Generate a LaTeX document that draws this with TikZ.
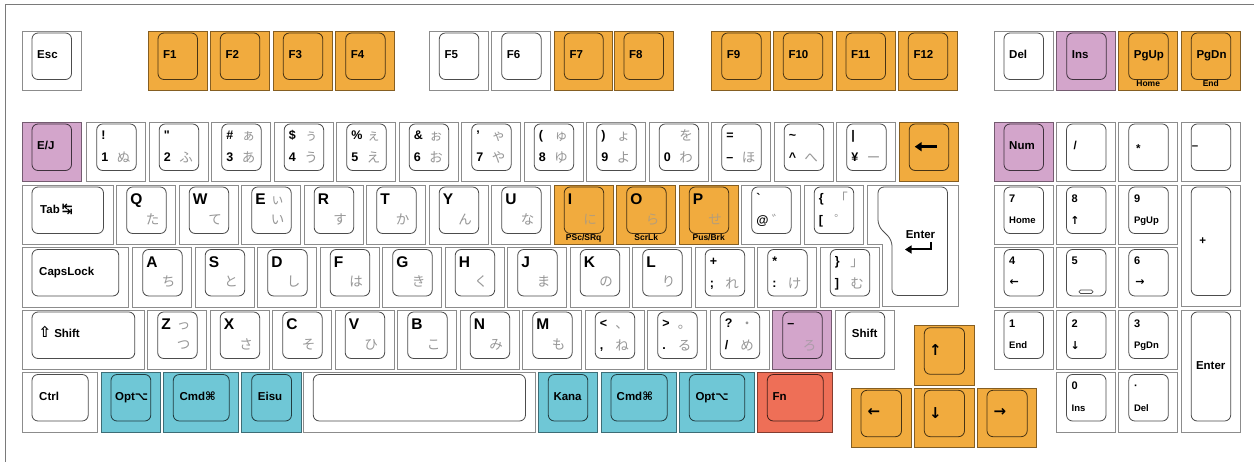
\documentclass[tikz,border=0pt]{standalone}
\usepackage{fontspec}
\setmainfont{Liberation Sans}
\newfontfamily\jp{Noto Sans CJK JP}
\newfontfamily\sym{DejaVu Sans}
\usetikzlibrary{calc,arrows.meta}
\definecolor{cOr}{HTML}{F1AB3E}
\definecolor{cPu}{HTML}{D3A5CB}
\definecolor{cTe}{HTML}{6FC7D6}
\definecolor{cRe}{HTML}{EE6F57}
\definecolor{cWh}{HTML}{FFFFFF}
\definecolor{kana}{HTML}{979797}
\definecolor{frm}{HTML}{7A7A7A}
% key: name, colour, x1, y1, x2, y2
\newcommand\kkey[6]{%
  \draw[draw=#2!55!black,fill=#2,line width=0.8pt] (#3,#4) rectangle (#5,#6);
  \draw[draw=#2!30!black,fill=#2,line width=0.8pt,rounded corners=6pt] ({#3+10},{#4+2}) rectangle ({#5-9.5},{#6-11});
  \coordinate (#1) at (#3,#4);}
\newcommand\ukey[4]{\kkey{#1}{#2}{#3}{#4}{#3+59}{#4+59.5}}
\newcommand\lbl[3][15]{\node[lab,anchor=west] (#2-l) at ($(#2)+(#1,23.8)$) {#3};}
\newcommand\tbl[3]{\node[nr,anchor=west] (#1-t) at ($(#1)+(14.5,13.5)$) {#2};\node[nr,anchor=west] (#1-b) at ($(#1)+(14.5,35.5)$) {#3};}
\newcommand\kal[4][kana]{\node[kn,text=#1] (#2-kt) at ($(#2)+(37,13.5)$) {#3};\node[kn,text=#1] (#2-kb) at ($(#2)+(37,35.5)$) {#4};}
\newcommand\ltl[4][kana]{\node[ltr,anchor=west] (#2-l) at ($(#2)+(13.5,14)$) {#3};\node[kn,text=#1] (#2-k) at ($(#2)+(36,34)$) {#4};}
\newcommand\sbl[2]{\node[subl] (#1-s) at ($(#1)+(29.5,52.5)$) {#2};}
\newcommand\npl[3]{\node[np,anchor=west] (#1-t) at ($(#1)+(15,13.5)$) {#2};\node[nps,anchor=west] (#1-b) at ($(#1)+(15,35.5)$) {#3};}
\begin{document}
\begin{tikzpicture}[x=1pt,y=-1pt,
  lab/.style={font=\fontsize{11.5}{12}\selectfont\bfseries,inner sep=0pt,text height=8.2pt,text depth=0pt},
  nr/.style={font=\fontsize{12.5}{13}\selectfont\bfseries,inner sep=0pt,text height=9pt,text depth=0pt},
  ltr/.style={font=\fontsize{15.5}{16}\selectfont\bfseries,inner sep=0pt,text height=11.1pt,text depth=0pt},
  kn/.style={font=\jp\fontsize{13.5}{14}\selectfont,inner sep=0pt,text height=11.9pt,text depth=1.6pt},
  subl/.style={font=\fontsize{8.5}{9}\selectfont\bfseries,inner sep=0pt,text height=6.1pt,text depth=0pt},
  np/.style={font=\fontsize{11}{12}\selectfont\bfseries,inner sep=0pt,text height=7.9pt,text depth=0pt},
  nps/.style={font=\fontsize{9.5}{10}\selectfont\bfseries,inner sep=0pt,text height=6.8pt,text depth=0pt},
  ar/.style={font=\sym\fontsize{15}{15}\selectfont\bfseries,inner sep=0pt},
  ars/.style={font=\sym\fontsize{11}{11}\selectfont\bfseries,inner sep=0pt}]
\useasboundingbox (0,0) rectangle (1254,462);
\draw[frm,line width=1pt] (5,462) -- (5,5) -- (1254,5);
% ---------- function row ----------
\kkey{esc}{cWh}{22}{31}{81}{90.5}\lbl{esc}{Esc}
\ukey{f1}{cOr}{148}{31}\lbl{f1}{F1}
\ukey{f2}{cOr}{210.3}{31}\lbl{f2}{F2}
\ukey{f3}{cOr}{273.3}{31}\lbl{f3}{F3}
\ukey{f4}{cOr}{335.7}{31}\lbl{f4}{F4}
\ukey{f5}{cWh}{429.3}{31}\lbl{f5}{F5}
\ukey{f6}{cWh}{491.7}{31}\lbl{f6}{F6}
\kkey{f7}{cOr}{554.3}{31}{612.7}{90.5}\lbl{f7}{F7}
\ukey{f8}{cOr}{614}{31}\lbl{f8}{F8}
\ukey{f9}{cOr}{711.7}{31}\lbl{f9}{F9}
\ukey{f10}{cOr}{773.3}{31}\lbl{f10}{F10}
\ukey{f11}{cOr}{836}{31}\lbl{f11}{F11}
\ukey{f12}{cOr}{898.3}{31}\lbl{f12}{F12}
\ukey{del}{cWh}{994}{31}\lbl{del}{Del}
\ukey{ins}{cPu}{1056.7}{31}\lbl{ins}{Ins}
\ukey{pgup}{cOr}{1118.7}{31}\lbl{pgup}{PgUp}\sbl{pgup}{Home}
\ukey{pgdn}{cOr}{1181.3}{31}\lbl{pgdn}{PgDn}\sbl{pgdn}{End}
% ---------- number row ----------
\ukey{ej}{cPu}{22}{122}\lbl{ej}{E/J}
\ukey{k1}{cWh}{86.7}{122}\tbl{k1}{!}{1}\kal{k1}{}{ぬ}
\ukey{k2}{cWh}{149.2}{122}\tbl{k2}{\textquotedbl}{2}\kal{k2}{}{ふ}
\ukey{k3}{cWh}{211.7}{122}\tbl{k3}{\#}{3}\kal{k3}{ぁ}{あ}
\ukey{k4}{cWh}{274.2}{122}\tbl{k4}{\$}{4}\kal{k4}{ぅ}{う}
\ukey{k5}{cWh}{336.7}{122}\tbl{k5}{\%}{5}\kal{k5}{ぇ}{え}
\ukey{k6}{cWh}{399.2}{122}\tbl{k6}{\&}{6}\kal{k6}{ぉ}{お}
\ukey{k7}{cWh}{461.7}{122}\tbl{k7}{’}{7}\kal{k7}{ゃ}{や}
\ukey{k8}{cWh}{524.2}{122}\tbl{k8}{(}{8}\kal{k8}{ゅ}{ゆ}
\ukey{k9}{cWh}{586.7}{122}\tbl{k9}{)}{9}\kal{k9}{ょ}{よ}
\ukey{k0}{cWh}{649.2}{122}\tbl{k0}{}{0}\kal{k0}{を}{わ}
\ukey{kmin}{cWh}{711.7}{122}\tbl{kmin}{=}{–}\kal{kmin}{}{ほ}
\ukey{kcar}{cWh}{774.2}{122}\tbl{kcar}{\textasciitilde}{\textasciicircum}\kal{kcar}{}{へ}
\ukey{kyen}{cWh}{836.7}{122}\tbl{kyen}{\textbar}{¥}\kal{kyen}{}{ー}
\ukey{bs}{cOr}{899.2}{122}
\draw[line width=2.4pt,-{Triangle[length=7pt,width=9pt]}] ($(bs)+(38,24.7)$) -- ($(bs)+(15.5,24.7)$);
\ukey{num}{cPu}{994}{122}\lbl{num}{Num}
\ukey{nsl}{cWh}{1056.5}{122}\lbl[17]{nsl}{/}
\ukey{nst}{cWh}{1118.8}{122}\node[lab,anchor=west] (nst-l) at ($(nst)+(17,26.5)$) {*};
\ukey{nmi}{cWh}{1181.2}{122}\node[lab,anchor=west] (nmi-l) at ($(nmi)+(10.5,23.5)$) {–};
% ---------- Q row ----------
\kkey{tab}{cWh}{22}{185}{113}{244.5}
\node[lab,anchor=west] (tab-l) at ($(tab)+(18,24.5)$) {Tab\hspace{2pt}{\sym\fontsize{13}{13}\selectfont ↹}};
\ukey{q}{cWh}{116.7}{185}\ltl{q}{Q}{た}
\ukey{w}{cWh}{179.2}{185}\ltl{w}{W}{て}
\ukey{e}{cWh}{241.7}{185}\ltl{e}{E}{い}\node[kn,text=kana] (e-kt) at ($(e)+(36,14)$) {ぃ};
\ukey{r}{cWh}{304.2}{185}\ltl{r}{R}{す}
\ukey{t}{cWh}{366.7}{185}\ltl{t}{T}{か}
\ukey{y}{cWh}{429.2}{185}\ltl{y}{Y}{ん}
\ukey{u}{cWh}{491.7}{185}\ltl{u}{U}{な}
\ukey{i}{cOr}{554.2}{185}\ltl[kana!65!cOr]{i}{I}{に}\sbl{i}{PSc/SRq}
\ukey{o}{cOr}{616.7}{185}\ltl[kana!65!cOr]{o}{O}{ら}\sbl{o}{ScrLk}
\ukey{p}{cOr}{679.2}{185}\ltl[kana!65!cOr]{p}{P}{せ}\sbl{p}{Pus/Brk}
\ukey{at}{cWh}{741.7}{185}\tbl{at}{\textasciigrave}{@}\kal{at}{}{゛}
\ukey{lb}{cWh}{804.2}{185}\tbl{lb}{\{}{[}\kal{lb}{「}{゜}
% Enter
\draw[draw=cWh!55!black,fill=white,line width=0.8pt] (867,185) -- (958.3,185) -- (958.3,306.7) -- (882.7,306.7) -- (882.7,244.5) -- (867,244.5) -- cycle;
\draw[draw=cWh!30!black,fill=white,line width=0.8pt,rounded corners=6pt] (878,187) -- (947.5,187) -- (947.5,295.5) -- (892,295.5) -- (892,240) -- (878,226) -- cycle;
\coordinate (enter) at (867,185);
\node[lab] (enter-l) at ($(enter)+(53.5,49)$) {Enter};
\draw[line width=2pt,-{Triangle[length=6.5pt,width=8pt]}] ($(enter)+(63.5,57)$) |- ($(enter)+(38,64.5)$);
\ukey{n7}{cWh}{994}{185}\npl{n7}{7}{Home}
\ukey{n8}{cWh}{1056.5}{185}\npl{n8}{8}{}\node[ars] (n8-a) at ($(n8)+(18.5,35)$) {↑};
\ukey{n9}{cWh}{1118.8}{185}\npl{n9}{9}{PgUp}
\kkey{nplus}{cWh}{1181.2}{185}{1240.2}{306.5}\node[lab] (nplus-l) at ($(nplus)+(21.5,55.8)$) {+};
% ---------- A row ----------
\kkey{caps}{cWh}{22}{247.5}{128.3}{307}\lbl[17]{caps}{CapsLock}
\ukey{a}{cWh}{132.7}{247.5}\ltl{a}{A}{ち}
\ukey{s}{cWh}{195.2}{247.5}\ltl{s}{S}{と}
\ukey{d}{cWh}{257.7}{247.5}\ltl{d}{D}{し}
\ukey{f}{cWh}{320.2}{247.5}\ltl{f}{F}{は}
\ukey{g}{cWh}{382.7}{247.5}\ltl{g}{G}{き}
\ukey{h}{cWh}{445.2}{247.5}\ltl{h}{H}{く}
\ukey{j}{cWh}{507.7}{247.5}\ltl{j}{J}{ま}
\ukey{k}{cWh}{570.2}{247.5}\ltl{k}{K}{の}
\ukey{l}{cWh}{632.7}{247.5}\ltl{l}{L}{り}
\ukey{semi}{cWh}{695.2}{247.5}\tbl{semi}{+}{;}\kal{semi}{}{れ}
\ukey{colon}{cWh}{757.7}{247.5}\tbl{colon}{*}{:}\kal{colon}{}{け}
\ukey{rb}{cWh}{820.2}{247.5}\tbl{rb}{\}}{]}\kal{rb}{」}{む}
\ukey{n4}{cWh}{994}{247.5}\npl{n4}{4}{}\node[ars] (n4-a) at ($(n4)+(20.3,35.3)$) {←};
\ukey{n5}{cWh}{1056.5}{247.5}\npl{n5}{5}{}
\draw[draw=cWh!30!black,line width=0.7pt,rounded corners=1.6pt] ($(n5)+(22.5,42.5)$) rectangle ($(n5)+(36.5,46)$);
\ukey{n6}{cWh}{1118.8}{247.5}\npl{n6}{6}{}\node[ars] (n6-a) at ($(n6)+(21.2,35.3)$) {→};
% ---------- shift row ----------
\kkey{lsh}{cWh}{22}{310}{144.3}{369.5}
\node[lab,anchor=west] (lsh-l) at ($(lsh)+(16.5,23.8)$) {{\sym\fontsize{15}{15}\selectfont ⇧}\hspace{3pt}Shift};
\ukey{z}{cWh}{147.7}{310}\ltl{z}{Z}{つ}\node[kn,text=kana] (z-kt) at ($(z)+(36,14)$) {っ};
\ukey{x}{cWh}{210.2}{310}\ltl{x}{X}{さ}
\ukey{c}{cWh}{272.7}{310}\ltl{c}{C}{そ}
\ukey{v}{cWh}{335.2}{310}\ltl{v}{V}{ひ}
\ukey{b}{cWh}{397.7}{310}\ltl{b}{B}{こ}
\ukey{n}{cWh}{460.2}{310}\ltl{n}{N}{み}
\ukey{m}{cWh}{522.7}{310}\ltl{m}{M}{も}
\ukey{comma}{cWh}{585.2}{310}\tbl{comma}{<}{,}\kal{comma}{、}{ね}
\ukey{period}{cWh}{647.7}{310}\tbl{period}{>}{.}\kal{period}{。}{る}
\ukey{slash}{cWh}{710.2}{310}\tbl{slash}{?}{/}\kal{slash}{・}{め}
\ukey{ro}{cPu}{772.7}{310}\tbl{ro}{–}{}\kal[kana!65!cPu]{ro}{}{ろ}
\ukey{rsh}{cWh}{835.2}{310}\lbl[16.5]{rsh}{Shift}
\kkey{up}{cOr}{914.3}{325.7}{974}{385.3}\node[ar] (up-a) at ($(up)+(21,24.5)$) {↑};
\ukey{n1}{cWh}{994}{310}\npl{n1}{1}{End}
\ukey{n2}{cWh}{1056.5}{310}\npl{n2}{2}{}\node[ars] (n2-a) at ($(n2)+(18.6,35.5)$) {↓};
\ukey{n3}{cWh}{1118.8}{310}\npl{n3}{3}{PgDn}
\kkey{nent}{cWh}{1181.2}{310}{1240.2}{432}\node[lab] (nent-l) at ($(nent)+(29.5,55.8)$) {Enter};
% ---------- bottom row ----------
\kkey{ctrl}{cWh}{22}{372.5}{97.7}{432}\lbl[17]{ctrl}{Ctrl}
\kkey{lopt}{cTe}{101}{372.5}{160.3}{432}\lbl[14]{lopt}{Opt{\sym ⌥}}
\kkey{lcmd}{cTe}{163.3}{372.5}{238.7}{432}\lbl[16]{lcmd}{Cmd{\sym ⌘}}
\kkey{eisu}{cTe}{241.7}{372.5}{301}{432}\lbl[16]{eisu}{Eisu}
\kkey{space}{cWh}{303.3}{372.5}{535}{432}
\kkey{kana}{cTe}{538.3}{372.5}{597.3}{432}\lbl{kana}{Kana}
\kkey{rcmd}{cTe}{601}{372.5}{676.7}{432}\lbl[15.5]{rcmd}{Cmd{\sym ⌘}}
\kkey{ropt}{cTe}{679.3}{372.5}{754.3}{432}\lbl[16]{ropt}{Opt{\sym ⌥}}
\kkey{fn}{cRe}{757.3}{372.5}{832.7}{432}\lbl{fn}{Fn}
\kkey{left}{cOr}{851}{388.3}{911}{447.7}\node[ar] (left-a) at ($(left)+(23,24.5)$) {←};
\kkey{down}{cOr}{914.3}{388.3}{974}{447.7}\node[ar] (down-a) at ($(down)+(21,24.5)$) {↓};
\kkey{right}{cOr}{977}{388.3}{1036.7}{447.7}\node[ar] (right-a) at ($(right)+(23,24.5)$) {→};
\ukey{n0}{cWh}{1056.5}{372.5}\npl{n0}{0}{Ins}
\ukey{ndot}{cWh}{1118.8}{372.5}\npl{ndot}{·}{Del}
\end{tikzpicture}
\end{document}
